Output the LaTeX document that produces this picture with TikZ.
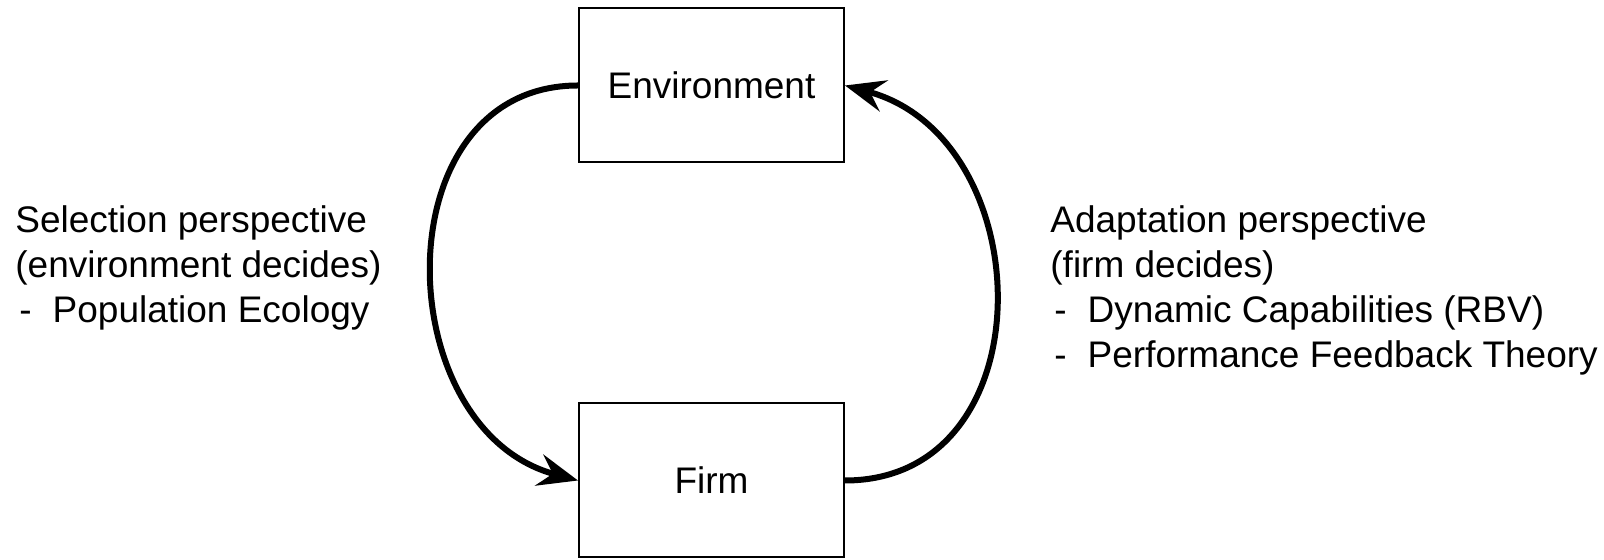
\documentclass[tikz,border=0pt]{standalone}
\usepackage{fontspec}
\setmainfont{Liberation Sans}
\usetikzlibrary{positioning,arrows.meta}

\begin{document}
\begin{tikzpicture}[x=0.5pt, y=0.5pt, every node/.style={font=\fontsize{18.5}{22.5}\selectfont},
    box/.style={draw, line width=1pt, minimum width=132.5pt, minimum height=77pt, inner sep=0pt},
    loopline/.style={line width=3pt, -{Stealth[length=20pt,width=16pt,inset=7pt]}},
    note/.style={align=left, inner sep=0pt, anchor=base west} ]

    \useasboundingbox (0,0) rectangle (1604,560);

    \node[box] (env) at (711.5,474.5) {Environment};
    \node[box] (firm) at (711.5,79.5) {Firm};

    \draw[loopline] (env.west) to[out=180, in=165, looseness=1.28] (firm.west);
    \draw[loopline] (firm.east) to[out=0, in=-15, looseness=1.32] (env.east);

    % base anchor sits on the last line
    \node[note] (selection) at (15,237) {Selection perspective\\(environment decides)\\\hspace{2pt}-\hspace{10.5pt}Population Ecology};
    \node[note] (adaptation) at (1050,192) {Adaptation perspective\\(firm decides)\\\hspace{2pt}-\hspace{10.5pt}Dynamic Capabilities (RBV)\\\hspace{2pt}-\hspace{10.5pt}Performance Feedback Theory};

\end{tikzpicture}
\end{document}
